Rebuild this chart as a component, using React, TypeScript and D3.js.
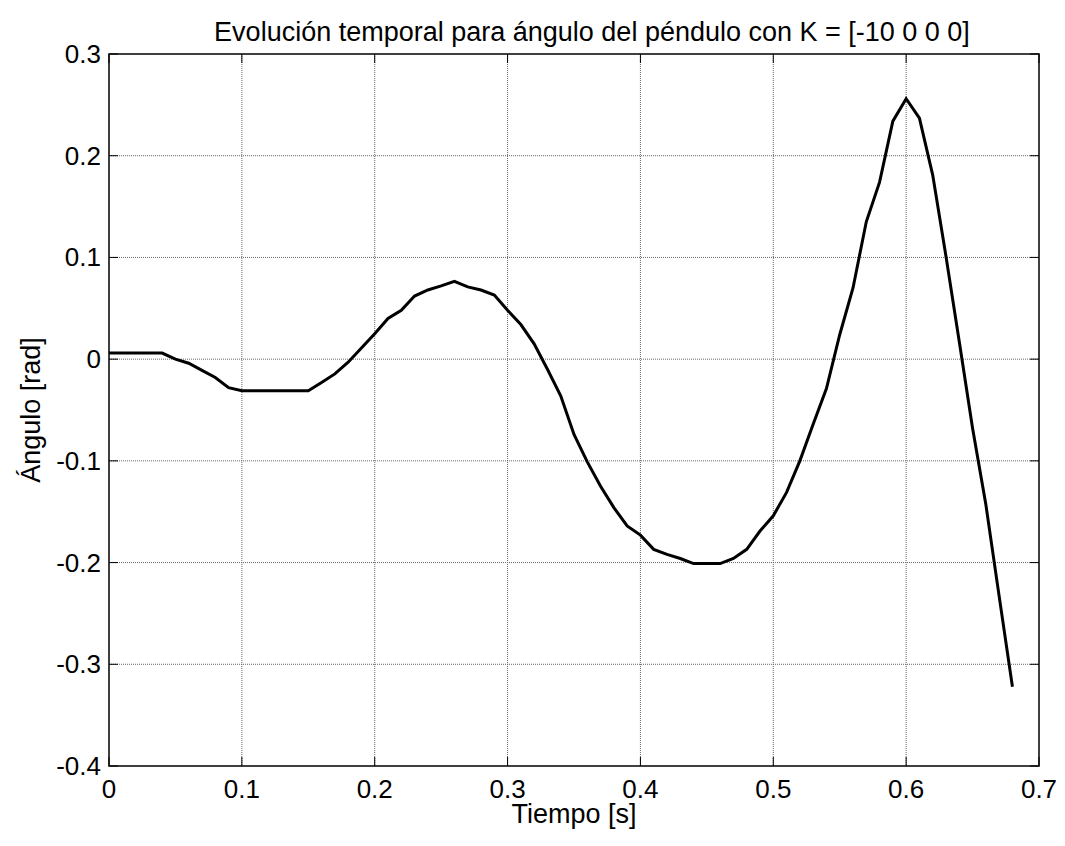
import React from "react";
import * as d3 from "d3";

const timeValues: number[] = [
  0.0, 0.01, 0.02, 0.03, 0.04, 0.05, 0.06, 0.07, 0.08, 0.09,
  0.1, 0.11, 0.12, 0.13, 0.14, 0.15, 0.16, 0.17, 0.18, 0.19,
  0.2, 0.21, 0.22, 0.23, 0.24, 0.25, 0.26, 0.27, 0.28, 0.29,
  0.3, 0.31, 0.32, 0.33, 0.34, 0.35, 0.36, 0.37, 0.38, 0.39,
  0.4, 0.41, 0.42, 0.43, 0.44, 0.45, 0.46, 0.47, 0.48, 0.49,
  0.5, 0.51, 0.52, 0.53, 0.54, 0.55, 0.56, 0.57, 0.58, 0.59,
  0.6, 0.61, 0.62, 0.63, 0.64, 0.65, 0.66, 0.67, 0.68,
];

const angleValues: number[] = [
  0.006, 0.006, 0.006, 0.006, 0.006, 0.0, -0.004, -0.011, -0.018, -0.028,
  -0.031, -0.031, -0.031, -0.031, -0.031, -0.031, -0.023, -0.0145, -0.003, 0.011,
  0.025, 0.04, 0.048, 0.062, 0.068, 0.072, 0.0765, 0.071, 0.068, 0.063,
  0.048, 0.034, 0.015, -0.01, -0.036, -0.074, -0.101, -0.125, -0.146, -0.164,
  -0.173, -0.187, -0.192, -0.196, -0.201, -0.201, -0.201, -0.196, -0.187, -0.169,
  -0.154, -0.131, -0.1, -0.064, -0.029, 0.024, 0.07, 0.135, 0.174, 0.234,
  0.256, 0.237, 0.181, 0.101, 0.017, -0.068, -0.143, -0.233, -0.322,
];

const xTicks: number[] = [0, 0.1, 0.2, 0.3, 0.4, 0.5, 0.6, 0.7];
const yTicks: number[] = [0.3, 0.2, 0.1, 0, -0.1, -0.2, -0.3, -0.4];
const xTickLabels: string[] = ["0", "0.1", "0.2", "0.3", "0.4", "0.5", "0.6", "0.7"];
const yTickLabels: string[] = ["0.3", "0.2", "0.1", "0", "-0.1", "-0.2", "-0.3", "-0.4"];

const titleText = "Evolución temporal para ángulo del péndulo con K = [-10 0 0 0]";
const xLabelText = "Tiempo [s]";
const yLabelText = "Ángulo [rad]";

const W = 1065;
const H = 846;
const L = 109;
const R = 1039;
const T = 54;
const B = 766;
const FONT = "Liberation Sans, Arial, Helvetica, sans-serif";

export default function App() {
  const x = d3.scaleLinear().domain([0, 0.7]).range([L, R]);
  const y = d3.scaleLinear().domain([-0.4, 0.3]).range([B, T]);
  const line = d3
    .line<number>()
    .x((_, i) => x(timeValues[i]))
    .y((d) => y(d));
  const tickLen = 9;

  return (
    <svg
      width={W}
      height={H}
      style={{ position: "absolute", left: 0, top: 0, background: "#fff" }}
      fontFamily={FONT}
    >
      <rect x={0} y={0} width={W} height={H} fill="#fff" />
      {xTicks.slice(1, -1).map((t) => (
        <line
          key={"gx" + t}
          x1={x(t)}
          x2={x(t)}
          y1={T}
          y2={B}
          stroke="#666"
          strokeWidth={1}
          strokeDasharray="1,1"
        />
      ))}
      {yTicks.slice(1, -1).map((t) => (
        <line
          key={"gy" + t}
          x1={L}
          x2={R}
          y1={y(t)}
          y2={y(t)}
          stroke="#666"
          strokeWidth={1}
          strokeDasharray="1,1"
        />
      ))}
      {xTicks.map((t) => (
        <g key={"tx" + t}>
          <line x1={x(t)} x2={x(t)} y1={B} y2={B - tickLen} stroke="#000" strokeWidth={1} />
          <line x1={x(t)} x2={x(t)} y1={T} y2={T + tickLen} stroke="#000" strokeWidth={1} />
        </g>
      ))}
      {yTicks.map((t) => (
        <g key={"ty" + t}>
          <line x1={L} x2={L + tickLen} y1={y(t)} y2={y(t)} stroke="#000" strokeWidth={1} />
          <line x1={R} x2={R - tickLen} y1={y(t)} y2={y(t)} stroke="#000" strokeWidth={1} />
        </g>
      ))}
      <rect x={L} y={T} width={R - L} height={B - T} fill="none" stroke="#000" strokeWidth={1.5} />
      <path d={line(angleValues) || ""} fill="none" stroke="#000" strokeWidth={3} strokeLinejoin="miter" />
      {xTicks.map((t, i) => (
        <text key={"lx" + t} x={x(t)} y={B + 32} fontSize={26} textAnchor="middle" fill="#000">
          {xTickLabels[i]}
        </text>
      ))}
      {yTicks.map((t, i) => (
        <text key={"ly" + t} x={L - 8} y={y(t) + 9} fontSize={26} textAnchor="end" fill="#000">
          {yTickLabels[i]}
        </text>
      ))}
      <text x={(L + R) / 2 + 18} y={41} fontSize={27} textAnchor="middle" fill="#000">
        {titleText}
      </text>
      <text x={(L + R) / 2} y={B + 57} fontSize={27} textAnchor="middle" fill="#000">
        {xLabelText}
      </text>
      <text
        x={0}
        y={0}
        fontSize={27}
        textAnchor="middle"
        fill="#000"
        transform={`translate(40, ${(T + B) / 2}) rotate(-90)`}
      >
        {yLabelText}
      </text>
    </svg>
  );
}
